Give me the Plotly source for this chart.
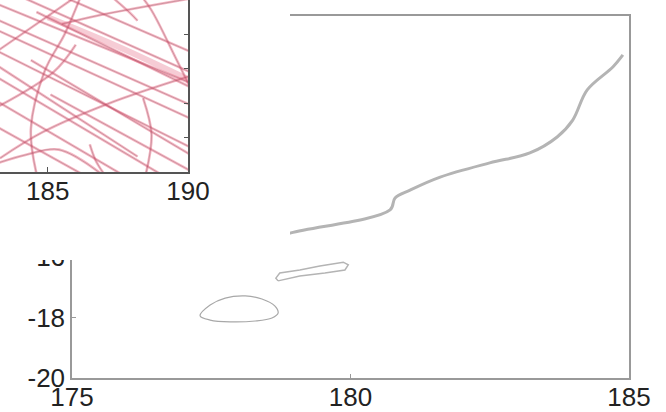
import plotly.graph_objects as go

# ---------------- data ----------------
# main panel: upper ridge curve (visible part)
ridge_x = [178.55, 178.93, 180.71, 180.80, 181.07, 181.61, 182.50, 183.22, 183.71, 183.99, 184.25, 184.71, 184.89]
ridge_y = [-15.43, -15.19, -14.43, -14.03, -13.77, -13.34, -12.87, -12.54, -12.01, -11.45, -10.45, -9.69, -9.29]

# thin elongated loop
loop_x = [178.70, 179.09, 179.54, 179.90, 179.96, 179.87, 179.45, 179.09, 178.73, 178.66, 178.70]
loop_y = [-16.78, -16.62, -16.52, -16.42, -16.25, -16.16, -16.29, -16.42, -16.52, -16.69, -16.78]

# lens-shaped closed contour
lens_x = [177.30, 177.48, 177.75, 178.11, 178.41, 178.64, 178.70, 178.59, 178.29, 177.84, 177.48, 177.30]
lens_y = [-17.94, -17.58, -17.35, -17.28, -17.38, -17.61, -17.85, -18.01, -18.11, -18.14, -18.08, -17.94]

main_xticks = [175, 180, 185]
main_xlabels = ["175", "180", "185"]
main_yticks = [-20, -18, -16]
main_ylabels = ["-20", "-18", "-16"]

# inset: tangle of red tracks
inset_lines_x = [
    [183.0, 190.5], [183.9, 190.5], [185.4, 190.5], [183.0, 190.5], [183.0, 190.5],
    [183.0, 189.0], [183.0, 187.6], [184.4, 190.5], [183.0, 186.2], [185.1, 190.5],
    [186.2, 185.6, 184.9, 184.4, 184.6],
    [188.3, 188.7, 189.6, 190.5],
    [188.4, 188.7, 188.5],
    [183.0, 184.2, 185.4, 186.9],
    [186.5, 186.7, 187.0],
    [183.0, 186.1],
    [183.3, 184.8, 187.2, 190.5],
    [185.5, 186.8, 190.5],
    [183.0, 190.5], [184.6, 190.5], [183.0, 188.2],
    [183.0, 185.2, 186.0], [187.2, 187.9, 188.2],
]
inset_lines_y = [
    [9.9, 4.9], [10.3, 5.5], [10.3, 6.7], [8.4, 2.8], [7.2, 1.1],
    [5.7, -0.1], [4.3, -0.1], [6.5, 0.6], [2.8, -0.1], [4.5, -0.3],
    [10.3, 8.0, 5.9, 2.5, -0.1],
    [10.3, 9.4, 6.5, 3.5],
    [4.3, 2.2, -0.1],
    [0.4, 0.99, 1.3, -0.1],
    [1.6, 0.7, -0.1],
    [6.8, 10.3],
    [0.8, 2.3, 4.0, 5.8],
    [8.6, 9.1, 10.2],
    [9.0, 3.6], [9.3, 4.6], [6.4, 0.9],
    [3.6, 5.8, 7.4], [10.3, 9.3, 8.8],
]
band_x = [185.0, 187.5, 190.5]
band_y = [9.0, 7.3, 5.0]
inset_xticks = [185, 190]
inset_xlabels = ["185", "190"]

# ---------------- figure ----------------
fig = go.Figure()

fig.add_trace(go.Scatter(x=ridge_x, y=ridge_y, mode="lines", line=dict(color="#b4b4b4", width=3, shape="spline"),
                         xaxis="x", yaxis="y", showlegend=False, hoverinfo="skip"))
fig.add_trace(go.Scatter(x=loop_x, y=loop_y, mode="lines", line=dict(color="#b4b4b4", width=1.5),
                         xaxis="x", yaxis="y", showlegend=False, hoverinfo="skip"))
fig.add_trace(go.Scatter(x=lens_x, y=lens_y, mode="lines", line=dict(color="#a8a8a8", width=1.2, shape="spline"),
                         xaxis="x", yaxis="y", showlegend=False, hoverinfo="skip"))

# cover panel (blank white area)
fig.add_trace(go.Scatter(x=[0], y=[0], mode="markers", marker=dict(opacity=0),
                         xaxis="x2", yaxis="y2", showlegend=False, hoverinfo="skip"))

# inset traces
fig.add_trace(go.Scatter(x=band_x, y=band_y, mode="lines", line=dict(color="rgba(230,110,135,0.35)", width=6, shape="spline"),
                         xaxis="x3", yaxis="y3", showlegend=False, hoverinfo="skip"))
for lx, ly in zip(inset_lines_x, inset_lines_y):
    fig.add_trace(go.Scatter(x=lx, y=ly, mode="lines", line=dict(color="rgba(232,90,120,0.45)", width=2.6, shape="spline"),
                             xaxis="x3", yaxis="y3", showlegend=False, hoverinfo="skip"))
    fig.add_trace(go.Scatter(x=lx, y=ly, mode="lines", line=dict(color="rgba(110,70,80,0.5)", width=0.6, shape="spline"),
                             xaxis="x3", yaxis="y3", showlegend=False, hoverinfo="skip"))

tickfont = dict(family="Liberation Sans, Arial, sans-serif", size=26, color="#222222")

fig.update_layout(
    width=666, height=412, autosize=False,
    margin=dict(l=0, r=0, t=0, b=0, pad=0, autoexpand=False),
    paper_bgcolor="white", plot_bgcolor="white",
    showlegend=False,
    xaxis=dict(domain=[72/666, 629/666], range=[175, 185], tickvals=main_xticks, ticktext=main_xlabels,
               showgrid=False, zeroline=False, showline=True, mirror=True, automargin=False,
               linecolor="#999999", linewidth=1.5, ticks="inside", ticklen=4, tickcolor="#999999",
               tickfont=tickfont, ticklabelstandoff=-5, anchor="y"),
    yaxis=dict(domain=[1-378/412, 1-16/412], range=[-20, -8], tickvals=main_yticks, ticktext=main_ylabels,
               showgrid=False, zeroline=False, showline=True, mirror=True, automargin=False,
               linecolor="#999999", linewidth=1.5, ticks="inside", ticklen=4, tickcolor="#999999",
               tickfont=tickfont, anchor="x"),
    xaxis2=dict(domain=[0, 290/666], range=[0, 1], visible=False, anchor="y2", automargin=False),
    yaxis2=dict(domain=[1-260/412, 1], range=[0, 1], visible=False, anchor="x2", automargin=False),
    xaxis3=dict(domain=[0, 188/666], range=[183.3, 190], tickvals=inset_xticks, ticktext=inset_xlabels,
                showgrid=False, zeroline=False, showline=True, mirror=False, automargin=False,
                linecolor="#555555", linewidth=1.5, ticks="inside", ticklen=5, tickcolor="#555555",
                tickfont=tickfont, ticklabelstandoff=-5, anchor="y3"),
    yaxis3=dict(domain=[1-172/412, 1], range=[0, 10], side="right", dtick=2,
                showgrid=False, zeroline=False, showline=True, mirror=False, automargin=False,
                linecolor="#555555", linewidth=1.5, ticks="inside", ticklen=4, tickcolor="#555555",
                showticklabels=False, anchor="x3"),
)

fig.write_html("out.html", config={"responsive": False})
